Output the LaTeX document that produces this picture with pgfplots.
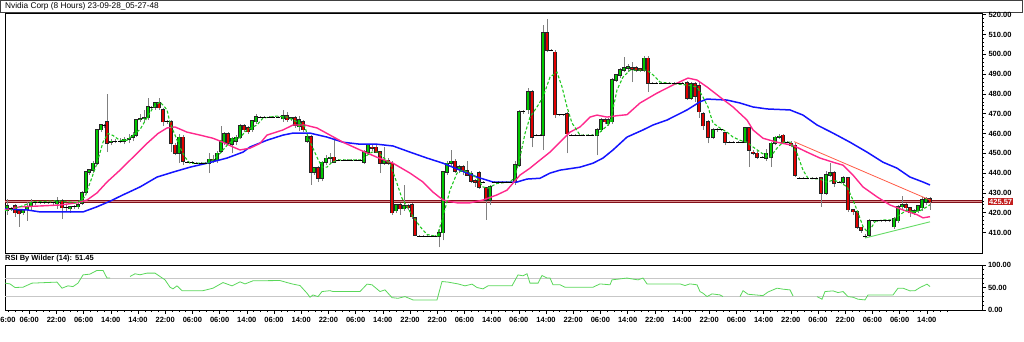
\documentclass[border=0pt]{standalone}
\usepackage{fontspec}
\setmainfont{Liberation Sans}
\usepackage{pgfplots}
\usepackage{pgfplotstable}
\pgfplotsset{compat=1.18}

\definecolor{cgreen}{RGB}{0,200,0}
\definecolor{cred}{RGB}{225,0,0}
\definecolor{mapink}{RGB}{255,40,140}
\definecolor{mablue}{RGB}{20,20,255}
\definecolor{magreen}{RGB}{30,200,30}
\definecolor{hline}{RGB}{130,15,25}
\definecolor{hlinein}{RGB}{215,140,140}
\definecolor{rsig}{RGB}{90,215,90}
\definecolor{tagred}{RGB}{195,30,30}
\definecolor{trred}{RGB}{255,90,70}
\definecolor{trgreen}{RGB}{100,220,100}

\pgfplotstableread{
x o h l c
7 421 427 419 423.5
11 422 423 421 422
15 423.5 424.5 418 420
19 421 422 413 419.5
23 420 422 419 421.5
27 421.5 425.5 416 423
31 423 427 421 425
35 425 425.5 424 425
40 425 425.5 424.5 425
44 425 425.5 424.5 425
48 425 425.5 424.5 425
53 425 425.5 424 425
57 424.5 428 422 426
62 426 427 416.7 422.5
66 422.5 424 421 422.5
70 422 423.5 420 423
74 423 424 422 423
78 423 425 422 424
82 425 431 424 430
86 430.5 441 430 440.5
89 440.5 442 439 441.5
93 441.5 446 440 445
97 445 462.5 444 461.8
101 462 465 461 464.3
104 464 465 463 464
107 466 480 450.6 455
111 455.5 457 454 456
115 456 457 455 456
120 456 457.5 455 456
124 456 458 454.5 457
129 457 460 455 457.5
133 458 461 456 459
136 459 467.5 458 467
140 467 470 466 467.5
144 467.5 472 466 468
148 468 478 467 473.4
151 473 474 472 473
155 473.4 476 472 475.4
159 475.4 478 472 473
163 472 473 464 466
167 466 467 465 466
171 466 467 450.6 455
175 454 455 449 450
179 450 460 445 458
183 458 459 444 446
187 445.5 446 445 445.5
192 445.5 446 445 445.5
196 445 445.5 444.5 445
201 445 445.5 444.5 445
205 445 445.5 444.5 445
209 445 450 440 447
213 447 449 445 446.5
217 446.5 451 445 450
221 451 464 450 456.6
224 455.5 461 454 460
228 460 461 454 455
232 454.5 458 450 457.6
236 456 459 454 458
240 458 465 457 464
244 464 465 461 462
248 463 464 460 461
252 462 467 461 466.5
256 466 470 465 468.3
260 468.3 469 467.8 468.3
264 468.3 469 467.8 468.3
269 468.3 469 467.8 468.3
273 468.3 469 467.8 468.3
278 468.3 469 467.8 468.3
283 467.5 472 466 469
287 469 471 466 467
291 467.5 468.5 466.5 468
295 468 469 463 464.3
299 463.5 469 461.5 467
303 466 467 461 462
307 456 459.5 455 458.2
311 458.2 459 434 440.5
314 440.5 443 439 442.5
318 442.5 443.5 435.5 437.5
322 437.5 446 436 445.5
326 445.5 449 444 447.5
330 447.5 450 444.5 448
334 448 457.6 445 445.5
338 446.5 447 446 446.5
343 446.5 447 446 446.5
347 446.5 447 446 446.5
351 446.5 447 446 446.5
356 446.5 447 446 446.5
360 446.5 447 446 446.5
364 445.5 451.5 444.5 451
368 450.5 454.5 449 454
372 453 454 451 452.6
376 453 454 450 450.6
380 450.6 451 440 445
384 445 453 444 446.5
388 446.5 447.5 444 445
392 445 446 419 420
396 421 424.5 420 424
400 424 425 419 422
404 422 434 421 423.5
408 423.5 424.5 421.5 422.5
412 424 425 417 418
415 417.4 418 408 408.8
419 408 408.5 407.5 408
423 408 408.5 407.5 408
427 408 408.5 407.5 408
431 408 408.5 407.5 408
435 408 408.5 407.5 408
439 408 412 402.5 410
443 410 441 406 440.5
447 440.5 446 439 445
451 445 451.6 443 446
455 446 447 440 441
459 442 444 440 443
463 443 444 439 441
467 441 446 438.5 439
471 439.5 441 435 436
475 436 437 433 435.3
479 440 441 432 433
483 435.3 436 434.8 435.3
486 432.5 433 416.4 426.4
490 426.4 434 424 433
494 435.5 436 435 435.5
498 435.5 436 435 435.5
502 435.5 436 435 435.5
506 435.5 436 435 435.5
510 435.5 436 435 435.5
515 435.5 446 434 444
519 444 472 443 471
523 471 472 470 471
528 472 483 470 481
532 481 482 453 458
536 459 459.5 458.5 459
540 459 459.5 458.5 459
543 459 515 451.6 511
547 511 518 501 502
551 502 502.5 501.5 502
555 501 502 468 469.5
559 469.5 470 469 469.5
563 469.5 470 469 469.5
567 470 471 450 460
571 459.2 459.7 458.7 459.2
575 459.2 459.7 458.7 459.2
579 459.2 459.7 458.7 459.2
583 459.2 459.7 458.7 459.2
588 459.2 459.7 458.7 459.2
592 459.2 459.7 458.7 459.2
597 459 463 449 461.8
601 462 468 461 467
605 467 468 465 466
608 465 468 464 467
612 466 488 465 487
616 487 490 486 489.6
620 489.6 493 488 492
624 492 498.6 491 493
628 493 495 491 493.5
632 493 496 486 492.5
636 493 494 491 492
640 492.5 493 491 492
644 492 499 491 498
648 498 499 481 485.5
652 485.5 486 485 485.5
656 485.5 486 485 485.5
661 485.5 486 485 485.5
665 485.5 486 485 485.5
669 485.5 486 485 485.5
674 485.5 486 485 485.5
678 485.5 486 485 485.5
682 485.5 486 485 485.5
687 485.5 486.5 477 478
691 478 486 477 485
695 485 486 476 479
699 484 486 468 471
703 470 471 462 464
708 466 467 455 458
713 458 463 457 462
717 462 463 461 462
721 462 462.5 461.5 462
725 460.5 461 454 455.6
729 455.6 456 455 455.6
733 455.6 456 455 455.6
738 455.6 456 455 455.6
742 455.6 456 455 455.6
745 455.6 463.5 455 462.7
749 462.7 463 443 451.7
753 450.5 451.5 449 450
757 450 451 447 448
762 448 448.5 447.5 448
766 447.6 452 446 450
771 448 455.5 443 455
775 455 458.5 454 458
779 458 460 457 458.5
783 459 460 454.5 455
787 455.5 456 455 455.5
791 455 456 453 454
795 454 455 438 439
799 437.5 438 437 437.5
803 437.5 438 437 437.5
807 437.5 438 437 437.5
812 437.5 438 437 437.5
816 437.5 438 437 437.5
821 437.5 438 423 430
826 430 441 429 439
830 439 445 438 440
834 440 441 433 435
839 435.5 436 435 435.5
843 435.5 438.5 434 437.5
848 437.5 438 420.5 421.5
853 421.5 422 419 420.5
857 420.5 421 412 412.6
861 412.6 413 410 411.3
865 408 409 407 408
869 408.5 417 407.5 416
873 416 416.5 415.5 416
877 416 416.5 415.5 416
881 416 416.5 415.5 416
885 416 416.5 415.5 416
889 416 416.5 415.5 416
894 413 418 412 417
898 416 424 415 423
902 423 428.5 422 424
906 424 425 421 422.5
910 422.5 423 418 420
914 420 422 419 421
918 421 423.5 420 423.5
922 422.5 428 421 426.5
926 425.5 428 424 427
930 427 428 421.5 425.57
}\candles

\begin{document}
\begin{tikzpicture}
\path[use as bounding box] (0,0) rectangle (1024pt,341pt);
% title bar
\draw[black!75, line width=0.8pt] (0.4pt,329pt) rectangle (1022.6pt,340.6pt);
\node[anchor=west, inner sep=0pt, font=\fontsize{8.3}{9}\selectfont] at (5pt,335pt) {Nvidia Corp (8 Hours) 23-09-28\_05-27-48};
% RSI label
\node[anchor=west, inner sep=0pt, font=\fontsize{7.5}{8}\selectfont\bfseries] at (5pt,82.5pt) {RSI By Wilder (14): 51.45};

% ---------------- main price panel
\begin{axis}[
  at={(5pt,88pt)}, anchor=south west, scale only axis,
  width=977pt, height=240pt,
  xmin=5, xmax=982, ymin=399.65, ymax=520.86,
  clip=false,
  axis line style={black, line width=0.8pt},
  xtick=\empty,
  ytick={410,420,...,520},
  yticklabels={410.00,420.00,430.00,440.00,450.00,460.00,470.00,480.00,490.00,500.00,510.00,520.00},
  ytick pos=right, yticklabel pos=right,
  minor y tick num=4,
  tick align=outside, major tick length=4pt, minor tick length=2pt,
  tick style={black, line width=0.6pt},
  yticklabel style={font=\fontsize{7.5}{8}\selectfont\bfseries, xshift=-1pt},
]
% last price line
\addplot[hline, line width=2.4pt, forget plot] coordinates {(5,425.57) (982,425.57)};
\addplot[hlinein, line width=0.7pt, forget plot] coordinates {(5,425.57) (982,425.57)};

% wicks
\addplot[draw=none, mark=none, forget plot,
  error bars/.cd, y dir=plus, y explicit, error mark=none,
  error bar style={draw=black!50, line width=0.7pt}]
  table[x=x, y=l, y error expr=\thisrow{h}-\thisrow{l}] {\candles};
% body outlines
\addplot[draw=none, mark=none, forget plot,
  restrict expr to domain={abs(\thisrow{c}-\thisrow{o})}{0.1:1000},
  error bars/.cd, y dir=plus, y explicit, error mark=none,
  error bar style={draw=black!85, line width=3.3pt}]
  table[x=x, y expr={min(\thisrow{o},\thisrow{c})-0.35}, y error expr={abs(\thisrow{c}-\thisrow{o})+0.7}] {\candles};
% up bodies
\addplot[draw=none, mark=none, forget plot,
  restrict expr to domain={\thisrow{c}-\thisrow{o}}{0.1:1000},
  error bars/.cd, y dir=plus, y explicit, error mark=none,
  error bar style={draw=cgreen, line width=2.1pt}]
  table[x=x, y=o, y error expr={\thisrow{c}-\thisrow{o}}] {\candles};
% down bodies
\addplot[draw=none, mark=none, forget plot,
  restrict expr to domain={\thisrow{o}-\thisrow{c}}{0.1:1000},
  error bars/.cd, y dir=plus, y explicit, error mark=none,
  error bar style={draw=cred, line width=2.1pt}]
  table[x=x, y=c, y error expr={\thisrow{o}-\thisrow{c}}] {\candles};
% dojis
\addplot[only marks, mark=-, mark size=1.7pt, black, mark options={line width=0.8pt}, forget plot,
  restrict expr to domain={abs(\thisrow{c}-\thisrow{o})}{0:0.09}]
  table[x=x, y=c] {\candles};

% blue MA
\addplot[mablue, line width=1.5pt, forget plot] coordinates {
(5,421.9)(27,421.4)(40,420.4)(83,420.4)(97,423)(110,425.8)(123,429)(140,433)(157,438)(173,440.5)(190,443)(207,445)(227,447.6)(243,450.6)(250,453.2)(267,456.6)(283,459.2)(293,460.2)(310,460.2)(327,458.2)(343,455.6)(360,454.6)(377,454.6)(393,453.7)(410,450.6)(427,447.6)(443,445)(460,441.5)(477,438)(493,435.5)(517,435.5)(527,437)(540,437.4)(550,440)(560,441.5)(580,443)(593,445)(603,447.6)(613,451.7)(627,458.2)(643,461.8)(653,464.3)(667,466.8)(687,471.9)(700,476)(707,477.4)(727,476.9)(740,475.4)(753,473.4)(767,472.4)(790,471.9)(803,469.3)(817,464.3)(833,460.2)(850,455.6)(867,450.6)(883,445.5)(897,442.5)(910,438)(923,435.5)(930,434)};
% pink MA
\addplot[mapink, line width=1.4pt, forget plot] coordinates {
(5,421.4)(20,423)(40,423.4)(60,423.9)(77,425)(87,426.4)(97,430)(107,435.5)(120,441.5)(133,448)(147,455)(158,460)(167,462.8)(175,463.3)(187,460.7)(200,459.2)(213,457.6)(223,455.6)(233,453.2)(240,451.7)(250,452.6)(260,455)(267,459.2)(283,461.8)(293,464.3)(305,464.3)(317,462.8)(330,459.2)(343,455.6)(360,451.7)(377,448)(393,445)(410,440)(423,435.5)(433,430.4)(443,426.4)(457,425)(470,425)(483,426.4)(497,429)(507,431.4)(520,439)(530,442.5)(540,446.6)(550,450.6)(560,455.6)(570,460.7)(580,463.3)(590,468.3)(597,469.3)(607,468.3)(617,469)(627,469.5)(640,475.4)(657,480.4)(673,484.5)(688,488)(697,487)(707,483.5)(720,478.4)(733,473.4)(747,466.8)(753,461.8)(763,457.6)(777,455.6)(793,454)(807,450.6)(820,447.6)(833,445.5)(843,444)(853,439)(863,433)(877,428)(890,423.9)(903,421.4)(917,419)(923,417.4)(930,418)};
% green MA
\addplot[magreen, line width=1.1pt, dash pattern=on 3pt off 2pt, forget plot] coordinates {
(5,421)(20,423)(33,425.5)(58,426)(77,425)(85,428)(97,445)(103,455.6)(108,460)(113,459)(120,456.5)(127,456.6)(135,460)(140,462)(147,468)(153,473)(160,476)(167,472)(170,465.4)(173,461.7)(180,453)(185,448)(190,445)(207,445)(213,446.6)(220,450)(227,454)(233,456.6)(240,458)(247,461.8)(253,463.3)(257,464.3)(263,467.8)(277,468.8)(287,468.3)(293,466.8)(300,465.3)(305,463.3)(308,458.2)(317,448)(322,443)(327,443)(332,445.5)(338,446.6)(362,446.6)(367,449)(372,450.6)(378,450.6)(383,448)(390,445)(397,434.8)(402,427.3)(407,423)(413,418)(420,413)(427,409)(437,408)(443,418)(450,431.4)(457,440)(463,441.5)(470,440)(477,437.4)(483,433)(488,432.4)(497,434.8)(510,435.5)(515,438)(520,448)(525,460)(530,468.3)(537,473.4)(543,478.4)(550,488.5)(557,491)(562,483.5)(567,473.4)(572,465.3)(580,459.2)(597,459.2)(600,460.7)(610,465.3)(617,482)(623,488.5)(630,492)(647,492)(653,489.6)(660,486)(667,485.5)(687,484.5)(697,483.5)(703,478.4)(708,473.4)(713,465.3)(720,462.8)(727,460.7)(733,458.2)(740,456.6)(747,455.6)(753,453.2)(762,450)(770,448)(777,452.6)(783,455.6)(790,455.6)(797,450)(803,441.5)(808,437.4)(820,437)(827,435.5)(833,436.4)(840,435.5)(847,433)(853,426.4)(858,420)(863,413)(867,410.5)(872,413)(875,415.5)(883,416.4)(893,416.4)(900,419)(907,421.4)(913,420.4)(920,421)(927,423)(930,424)};
% trend lines
\addplot[trred, line width=0.8pt, forget plot] coordinates {(794,455.9) (930,426.4)};
\addplot[trgreen, line width=0.9pt, forget plot] coordinates {(865,407.2) (930,415.4)};

\node[anchor=west, fill=tagred, text=white, inner sep=1pt, font=\fontsize{7.5}{8}\selectfont\bfseries] at (axis cs:982,425.57) [xshift=6pt] {425.57};
\end{axis}

% ---------------- RSI panel
\begin{axis}[
  at={(5pt,31pt)}, anchor=south west, scale only axis,
  width=977pt, height=45pt,
  xmin=5, xmax=982, ymin=0, ymax=100,
  clip=false,
  axis line style={black, line width=0.8pt},
  ytick={0,50,100}, yticklabels={0.00,50.00,100.00},
  ytick pos=right, yticklabel pos=right,
  minor y tick num=4,
  extra y ticks={30,70}, extra y tick labels={},
  extra y tick style={grid=major, major grid style={black!22, line width=0.7pt}, major tick length=0pt},
  xtick={29.2,56.4,83.6,110.8,138,165.2,192.4,219.6,246.8,274,301.2,328.4,355.6,382.8,410,437.2,464.4,491.6,518.8,546,573.2,600.4,627.6,654.8,682,709.2,736.4,763.6,790.8,818,845.2,872.4,899.6,926.8},
  xticklabels={06:00,22:00,06:00,14:00,14:00,22:00,06:00,06:00,14:00,06:00,14:00,22:00,06:00,14:00,22:00,22:00,06:00,14:00,06:00,14:00,22:00,06:00,14:00,22:00,14:00,22:00,06:00,14:00,22:00,06:00,22:00,06:00,06:00,14:00},
  minor xtick={8.8,15.6,...,950},
  xtick pos=bottom,
  tick align=outside, major tick length=3.5pt, minor tick length=2pt,
  tick style={black, line width=0.6pt},
  xticklabel style={font=\fontsize{7.5}{8}\selectfont\bfseries},
  yticklabel style={font=\fontsize{7.5}{8}\selectfont\bfseries, xshift=-1pt},
]
\addplot[rsig, line width=0.8pt] coordinates {(5,59.7)(10,58)(15,50)(23,50.7)(32,59.7)(57,62)(62,48.5)(68,53.7)(73,52)(78,59.7)(83,78)(90,79.8)(97,88)(103,88)(107,71)(110,71)};
\addplot[rsig, line width=0.8pt] coordinates {(130,74.5)(135,80.5)(140,78.3)(147,82)(155,82)(160,74.5)(165,67)(170,50.7)(173,47)(177,53.7)(182,43)(203,43)(213,48.5)(223,61)(232,53.7)(240,62.6)(245,58)(253,64.9)(280,65.5)(287,61)(293,57.5)(300,54.4)(307,37.3)(310,28.4)(313,33.5)(318,29.8)(322,41)(330,43)(333,41)(360,41)(367,57.5)(372,56)(380,41)(385,44.7)(392,27.5)(398,26)(405,29.8)(413,22.4)(437,22.4)(442,63.3)(448,62)(458,58)(465,53.7)(472,57.5)(477,50)(483,47)(488,53.7)(512,53.7)(518,78)(523,76)(527,80.5)(530,59.7)(538,59.7)(542,76.8)(547,71)(550,71)(553,56)(560,56)(565,50.7)(593,50.7)(600,58)(610,56)(612,67)(627,71)(633,68.7)(638,67)(643,71)(647,58)(680,58)(685,54.4)(690,58)(697,56)(700,41)(703,37.3)(707,29.8)(712,35.8)(720,33.5)(723,29.8)};
\addplot[rsig, line width=0.8pt] coordinates {(740,29.8)(743,43)(748,35)(763,32)(768,40)(777,48.5)(783,46.3)(790,44.7)(793,31.3)};
\addplot[rsig, line width=0.8pt] coordinates {(817,29.8)(822,24)(825,41)(833,42.5)(838,38.7)(843,41)(848,29.8)(853,28.4)(858,24)(865,22.4)(868,33.5)(893,33.5)(898,48.5)(903,48.5)(910,42.5)(915,43)(920,50)(927,57.5)(930,52)};
\end{axis}
% first, clipped time label of the reference
\node[anchor=north west, inner sep=0pt, font=\fontsize{7.5}{8}\selectfont\bfseries] at (0.3pt,24.2pt) {6:00};
\end{tikzpicture}
\end{document}
